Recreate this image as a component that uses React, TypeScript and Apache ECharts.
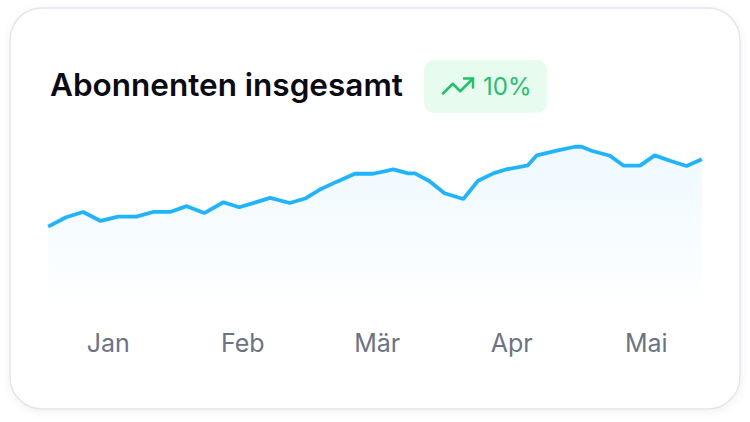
import React, { useEffect, useRef } from "react";
import * as echarts from "echarts";

// Month bands along the x axis (each month spans 30 day-units)
const monthLabels = ["Jan", "Feb", "Mär", "Apr", "Mai"];

// Day position of each sample (0 = start of January, 150 = end of May)
const dayOffsets = [
  1.6, 5.6, 9.4, 13.3, 17.2, 21.3, 25.0, 28.8, 32.5, 36.4, 40.7, 44.2, 47.5, 51.1,
  55.5, 58.9, 62.1, 66.0, 70.0, 74.1, 78.6, 81.9, 83.4, 86.6, 90.0, 94.2, 97.5,
  100.9, 103.5, 108.6, 110.6, 115.0, 119.1, 120.6, 122.8, 126.9, 129.9, 133.6,
  136.9, 140.3, 144.0, 147.4,
];

// Total subscribers at each sample
const subscribers = [
  4602, 4670, 4708, 4643, 4674, 4674, 4708, 4708, 4750, 4700, 4778, 4742, 4774, 4810,
  4773, 4805, 4868, 4927, 4984, 4984, 5015, 4987, 4987, 4932, 4843, 4802, 4934,
  4987, 5013, 5045, 5117, 5151, 5179, 5179, 5150, 5114, 5043, 5043, 5117, 5078,
  5040, 5088,
];

const titleText = "Abonnenten insgesamt";
const growthText = "10%";

export default function App() {
  const ref = useRef<HTMLDivElement>(null);

  useEffect(() => {
    if (!ref.current) return;
    const chart = echarts.init(ref.current, undefined, { renderer: "svg" });

    const green = "#22c16b";
    const icon = { x0: 440, y0: 68, s: 1.5 };
    const ip = (u: number, v: number) => [icon.x0 + u * icon.s, icon.y0 + v * icon.s];

    chart.setOption({
      animation: false,
      backgroundColor: "#ffffff",
      textStyle: { fontFamily: "Inter" },
      grid: { left: 41, right: 36.5, top: 130, bottom: 112 },
      xAxis: [
        {
          type: "value",
          min: 0,
          max: 150,
          show: false,
        },
        {
          type: "category",
          data: monthLabels,
          boundaryGap: true,
          position: "bottom",
          axisLine: { show: false },
          axisTick: { show: false },
          splitLine: { show: false },
          axisLabel: {
            color: "#6b7384",
            fontFamily: "Inter",
            fontSize: 25,
            fontWeight: 400,
            margin: 33,
            verticalAlign: "middle",
          },
        },
      ],
      yAxis: {
        type: "value",
        min: 4000,
        max: 5300,
        show: false,
      },
      graphic: [
        {
          type: "rect",
          z: -10,
          shape: { x: 10, y: 8, width: 730, height: 401, r: 32 },
          style: {
            fill: "#ffffff",
            stroke: "#e2e6ef",
            lineWidth: 1.5,
            shadowBlur: 8,
            shadowOffsetY: 2,
            shadowColor: "rgba(16,24,40,0.06)",
          },
        },
        {
          type: "text",
          z: 10,
          x: 50,
          y: 84.5,
          style: {
            text: titleText,
            fill: "#0b0b14",
            font: "600 31.5px Inter",
            align: "left",
            verticalAlign: "middle",
          },
        },
        {
          type: "rect",
          z: 5,
          shape: { x: 424, y: 60, width: 123, height: 53, r: 10 },
          style: { fill: "#e7fbef" },
        },
        {
          type: "polyline",
          z: 10,
          shape: { points: [ip(22, 7), ip(13.5, 15.5), ip(8.5, 10.5), ip(2, 17)] },
          style: { stroke: green, lineWidth: 2.5, fill: "none", lineJoin: "round", lineCap: "round" },
        },
        {
          type: "polyline",
          z: 10,
          shape: { points: [ip(16, 7), ip(22, 7), ip(22, 13)] },
          style: { stroke: green, lineWidth: 2.5, fill: "none", lineJoin: "round", lineCap: "round" },
        },
        {
          type: "text",
          z: 10,
          x: 483,
          y: 86.5,
          style: {
            text: growthText,
            fill: green,
            font: "400 24px Inter",
            align: "left",
            verticalAlign: "middle",
          },
        },
      ],
      series: [
        {
          type: "line",
          xAxisIndex: 0,
          yAxisIndex: 0,
          data: dayOffsets.map((d, i) => [d, subscribers[i]]),
          showSymbol: false,
          symbol: "none",
          lineStyle: { color: "#20b4fc", width: 3.8 },
          areaStyle: {
            color: new echarts.graphic.LinearGradient(0, 0, 0, 1, [
              { offset: 0, color: "rgba(32,180,252,0.11)" },
              { offset: 1, color: "rgba(32,180,252,0.0)" },
            ]),
          },
          z: 3,
        },
      ],
    });

    return () => chart.dispose();
  }, []);

  return (
    <div
      ref={ref}
      style={{ position: "absolute", left: 0, top: 0, width: 750, height: 422 }}
    />
  );
}
